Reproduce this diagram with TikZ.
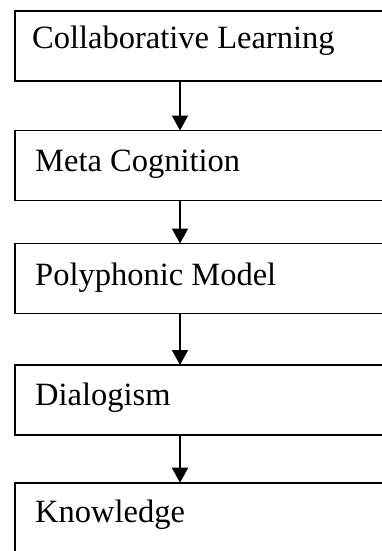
\documentclass[tikz,border=0pt]{standalone}
\usepackage{fontspec}
\setmainfont{Liberation Serif}
\usetikzlibrary{arrows.meta}
\tikzset{
  box/.style={draw, line width=1.9pt, rectangle, anchor=north west, inner sep=0pt, outer sep=0pt, minimum width=385pt, minimum height=70pt},
  lbl/.style={anchor=base west, inner sep=0pt, font=\fontsize{32.5}{38}\selectfont},
  arr/.style={line width=1.9pt, -{Triangle[width=16pt,length=15pt]}}
}
\begin{document}
\begin{tikzpicture}[x=1pt,y=-1pt]
\useasboundingbox (0,0) rectangle (382,551);
\clip (0,0) rectangle (382,551);
\coordinate (ax) at (180,0);
\node[box] (b1) at (15,10.7) {};
\node[box] (b2) at (15,130.5) {};
\node[box] (b3) at (15,243.5) {};
\node[box] (b4) at (15,365) {};
\node[box] (b5) at (15,482.7) {};
\node[lbl] (t1) at (32,48.5) {Collaborative Learning};
\node[lbl] (t2) at (35,171.5) {Meta Cognition};
\node[lbl] (t3) at (35,285) {Polyphonic Model};
\node[lbl] (t4) at (35,405) {Dialogism};
\node[lbl] (t5) at (35,522.5) {Knowledge};
\draw[arr] (b1.south -| ax) -- (b2.north -| ax);
\draw[arr] (b2.south -| ax) -- (b3.north -| ax);
\draw[arr] (b3.south -| ax) -- (b4.north -| ax);
\draw[arr] (b4.south -| ax) -- (b5.north -| ax);
\end{tikzpicture}
\end{document}
